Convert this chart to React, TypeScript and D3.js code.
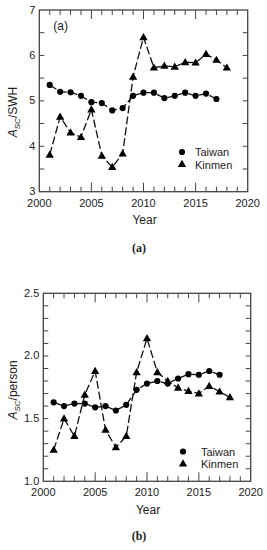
import React from "react";
import * as d3 from "d3";

// data
const years = [2001, 2002, 2003, 2004, 2005, 2006, 2007, 2008, 2009, 2010, 2011, 2012, 2013, 2014, 2015, 2016, 2017, 2018];

const taiwanSWH = [5.35, 5.2, 5.19, 5.11, 4.97, 4.95, 4.79, 4.84, 5.11, 5.18, 5.18, 5.06, 5.11, 5.18, 5.11, 5.16, 5.04];
const kinmenSWH = [3.81, 4.65, 4.3, 4.2, 4.81, 3.79, 3.54, 3.84, 5.53, 6.4, 5.73, 5.77, 5.75, 5.85, 5.84, 6.03, 5.9, 5.73];

const taiwanPerson = [1.63, 1.6, 1.62, 1.62, 1.59, 1.6, 1.565, 1.61, 1.73, 1.78, 1.8, 1.78, 1.82, 1.855, 1.85, 1.88, 1.85];
const kinmenPerson = [1.25, 1.5, 1.36, 1.69, 1.88, 1.41, 1.27, 1.36, 1.87, 2.14, 1.87, 1.8, 1.745, 1.72, 1.7, 1.76, 1.715, 1.67];

const xTicks = [2000, 2005, 2010, 2015, 2020];
const ySWHTicks = [3, 4, 5, 6, 7];
const yPersonTicks = [1.0, 1.5, 2.0, 2.5];

const sans = "Liberation Sans, Arial, sans-serif";
const serif = "Liberation Serif, Times New Roman, serif";
const frameColor = "#444";

type PanelProps = {
  top: number;
  bottom: number;
  left: number;
  right: number;
  yDomain: [number, number];
  yTicks: number[];
  yMinorStep: number;
  yFormat: (v: number) => string;
  taiwan: number[];
  kinmen: number[];
  yLabel: string;
  labelY: number;
  yearY: number;
  tickLabelY: number;
  caption: string;
  captionY: number;
  legendX: number;
  legendTextX: number;
  legendY: number;
  inset?: string;
};

function Panel(p: PanelProps) {
  const x = d3.scaleLinear().domain([2000, 2020]).range([p.left, p.right]);
  const y = d3.scaleLinear().domain(p.yDomain).range([p.bottom, p.top]);

  const lineGen = d3
    .line<number>()
    .x((d, i) => x(years[i]))
    .y((d) => y(d));

  const circle = d3.symbol().type(d3.symbolCircle).size(30)()!;
  const tri = d3.symbol().type(d3.symbolTriangle).size(30)()!;

  const minorX = d3.range(2001, 2020);
  const nMinorY = Math.round((p.yDomain[1] - p.yDomain[0]) / p.yMinorStep);
  const minorY = d3.range(1, nMinorY).map((i) => p.yDomain[0] + i * p.yMinorStep);

  return (
    <g>
      {/* x ticks, bottom and top, pointing in */}
      {minorX.map((yr) => {
        const major = yr % 5 === 0;
        const len = major ? 9 : 5;
        return (
          <g key={"xt" + yr} stroke={frameColor} strokeWidth={1}>
            <line x1={x(yr)} x2={x(yr)} y1={p.bottom} y2={p.bottom - len} />
            <line x1={x(yr)} x2={x(yr)} y1={p.top} y2={p.top + len} />
          </g>
        );
      })}
      {minorY.map((v) => (
        <g key={"yt" + v} stroke={frameColor} strokeWidth={1}>
          <line x1={p.left} x2={p.left + 5} y1={y(v)} y2={y(v)} />
          <line x1={p.right} x2={p.right - 5} y1={y(v)} y2={y(v)} />
        </g>
      ))}
      <rect
        x={p.left}
        y={p.top}
        width={p.right - p.left}
        height={p.bottom - p.top}
        fill="none"
        stroke={frameColor}
        strokeWidth={1.3}
      />

      {xTicks.map((t) => (
        <text key={"xl" + t} x={x(t)} y={p.tickLabelY} textAnchor="middle" fontFamily={sans} fontSize={11} fill="#222">
          {t}
        </text>
      ))}
      {p.yTicks.map((t) => (
        <text key={"yl" + t} x={p.left - 4} y={y(t) + 3.5} textAnchor="end" fontFamily={sans} fontSize={11} fill="#222">
          {p.yFormat(t)}
        </text>
      ))}

      <path d={lineGen(p.kinmen) || ""} fill="none" stroke="#111" strokeWidth={1.3} strokeDasharray="8,3" />
      <path d={lineGen(p.taiwan) || ""} fill="none" stroke="#111" strokeWidth={1.3} strokeDasharray="8,3" />
      {p.taiwan.map((v, i) => (
        <path key={"tw" + i} d={circle} transform={`translate(${x(years[i])},${y(v)})`} fill="#000" />
      ))}
      {p.kinmen.map((v, i) => (
        <path key={"km" + i} d={tri} transform={`translate(${x(years[i])},${y(v) + 0.5})`} fill="#000" />
      ))}

      {/* legend */}
      <path d={circle} transform={`translate(${p.legendX},${p.legendY})`} fill="#000" />
      <text x={p.legendTextX} y={p.legendY + 4} fontFamily={sans} fontSize={11} fill="#222">
        Taiwan
      </text>
      <path d={tri} transform={`translate(${p.legendX},${p.legendY + 12.5})`} fill="#000" />
      <text x={p.legendTextX} y={p.legendY + 16.5} fontFamily={sans} fontSize={11} fill="#222">
        Kinmen
      </text>

      {p.inset && (
        <text x={p.left + 14} y={p.top + 20} fontFamily={sans} fontSize={12} fill="#222">
          {p.inset}
        </text>
      )}

      <text
        transform={`translate(17,${p.labelY}) rotate(-90)`}
        textAnchor="middle"
        fontFamily={sans}
        fontSize={12}
        fill="#222"
      >
        <tspan fontStyle="italic">A</tspan>
        <tspan fontStyle="italic" fontSize={8} dy={3}>SC</tspan>
        <tspan dy={-3}>{p.yLabel}</tspan>
      </text>
      <text x={(p.left + p.right) / 2 + 1} y={p.yearY} textAnchor="middle" fontFamily={sans} fontSize={12} fill="#222">
        Year
      </text>
      <text x={139} y={p.captionY} textAnchor="middle" fontFamily={serif} fontWeight="bold" fontSize={12} fill="#222">
        {p.caption}
      </text>
    </g>
  );
}

export default function App() {
  return (
    <svg
      width={267}
      height={550}
      style={{ position: "absolute", left: 0, top: 0, background: "#fff" }}
    >
      <Panel
        top={10}
        bottom={191.7}
        left={39.3}
        right={247.7}
        yDomain={[3, 7]}
        yTicks={ySWHTicks}
        yMinorStep={0.5}
        yFormat={(v) => d3.format("d")(v)}
        taiwan={taiwanSWH}
        kinmen={kinmenSWH}
        yLabel="/SWH"
        labelY={112}
        yearY={224}
        tickLabelY={206.5}
        caption="(a)"
        captionY={252}
        legendX={182}
        legendTextX={195}
        legendY={152}
        inset="(a)"
      />
      <Panel
        top={293.3}
        bottom={481.3}
        left={43.3}
        right={250.7}
        yDomain={[1, 2.5]}
        yTicks={yPersonTicks}
        yMinorStep={0.1}
        yFormat={(v) => d3.format(".1f")(v)}
        taiwan={taiwanPerson}
        kinmen={kinmenPerson}
        yLabel="/person"
        labelY={390}
        yearY={514}
        tickLabelY={496}
        caption="(b)"
        captionY={540}
        legendX={183}
        legendTextX={201}
        legendY={451.5}
      />
    </svg>
  );
}
